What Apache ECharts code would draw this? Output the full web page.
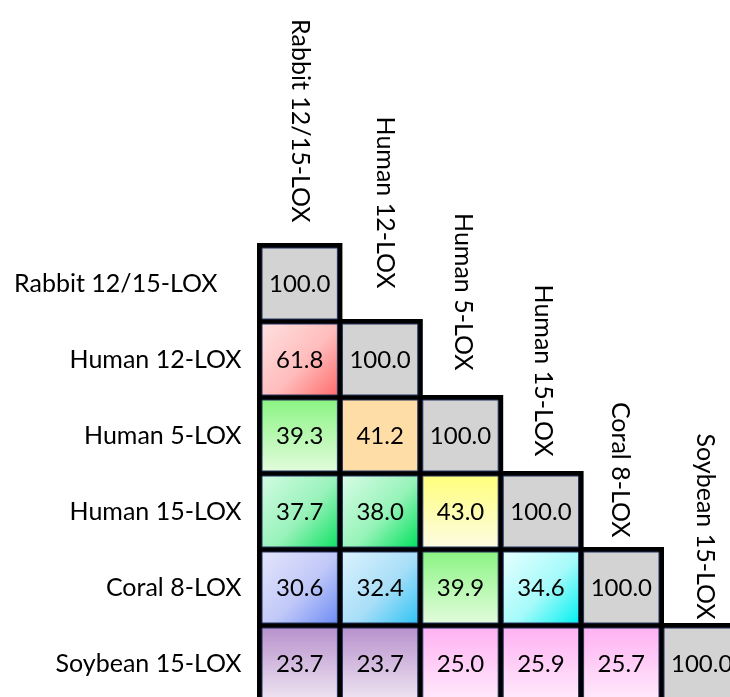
<!DOCTYPE html>
<html>
<head>
<meta charset="utf-8">
<title>LOX sequence identity</title>
<script src="https://cdn.jsdelivr.net/npm/echarts@6/dist/echarts.min.js"></script>
<style>
  html, body { margin: 0; padding: 0; background: #ffffff; }
  #chart { width: 730px; height: 697px; }
</style>
</head>
<body>
<div id="chart"></div>
<script>
// Enzyme names (rows top to bottom, columns left to right)
const enzymes = ['Rabbit 12/15-LOX', 'Human 12-LOX', 'Human 5-LOX', 'Human 15-LOX', 'Coral 8-LOX', 'Soybean 15-LOX'];

// Percent identity, lower triangle, one array per row
const rowRabbit  = [100.0];
const rowHuman12 = [61.8, 100.0];
const rowHuman5  = [39.3, 41.2, 100.0];
const rowHuman15 = [37.7, 38.0, 43.0, 100.0];
const rowCoral8  = [30.6, 32.4, 39.9, 34.6, 100.0];
const rowSoybean = [23.7, 23.7, 25.0, 25.9, 25.7, 100.0];
const identityRows = [rowRabbit, rowHuman12, rowHuman5, rowHuman15, rowCoral8, rowSoybean];

// Fill style key of every cell (same shape as identityRows)
const cellFillKeys = [
  ['gray'],
  ['red', 'gray'],
  ['greenV', 'orange', 'gray'],
  ['mint', 'mint2', 'yellow', 'gray'],
  ['lavender', 'sky', 'greenV', 'cyan', 'gray'],
  ['purple', 'purple', 'pink', 'pink', 'pink', 'gray']
];

const G = echarts.graphic.LinearGradient;
function diag(a, m, b) {
  return new G(0, 0, 1, 1, [{ offset: 0, color: a }, { offset: 0.55, color: m }, { offset: 1, color: b }]);
}
function vert(a, b) { return new G(0, 0, 0, 1, [{ offset: 0, color: a }, { offset: 1, color: b }]); }
const fills = {
  gray: '#d3d3d3',
  red: diag('#ffe0e0', '#ffbcbc', '#ff6c6c'),
  greenV: vert('#8cf484', '#e2fcdc'),
  orange: '#fedda6',
  mint: diag('#d2fbe2', '#98f2ba', '#10e264'),
  mint2: diag('#d8fce6', '#96f3b8', '#00e25c'),
  yellow: vert('#ffff7c', '#fdfbe2'),
  lavender: diag('#e4e5fb', '#c0c8f8', '#6e8cf4'),
  sky: diag('#dcf2fd', '#a8def8', '#30c4f4'),
  cyan: diag('#e6ffff', '#a6fafa', '#00f0f0'),
  purple: vert('#b891cd', '#eee4f1'),
  pink: vert('#ffb2f2', '#ffe9fb')
};

// Column-label placement: gap above the diagonal cell and sideways nudge
const colLabelGap = [23, 33, 27, 17, 12, 6];
const colLabelShift = [0, 5, 3, 2, -1, 3];

const FONT = 'Lato, "Open Sans", "Noto Sans", sans-serif';
const NAME_SIZE = 25;
const VALUE_SIZE = 24;
const BORDER = 5;

const cells = [];
identityRows.forEach(function (row, r) {
  row.forEach(function (v, c) { cells.push([c, r, v, cellFillKeys[r][c]]); });
});

const chart = echarts.init(document.getElementById('chart'), null, { renderer: 'canvas' });

chart.setOption({
  backgroundColor: '#ffffff',
  animation: false,
  grid: { left: 259.5, top: 245.5, width: 482.4, height: 456, containLabel: false, outerBoundsMode: 'none' },
  xAxis: { type: 'category', data: enzymes, show: false },
  yAxis: {
    type: 'category', data: enzymes, inverse: true,
    axisLine: { show: false }, axisTick: { show: false }, splitLine: { show: false },
    axisLabel: {
      margin: 18, color: '#000000', fontSize: NAME_SIZE, fontFamily: FONT,
      formatter: function (name, i) { return i === 0 ? '{first|' + name + '}' : name; },
      rich: { first: { fontSize: NAME_SIZE, fontFamily: FONT, color: '#000000', padding: [0, 24, 0, 0] } }
    }
  },
  series: [
    {
      // black frame behind each cell
      type: 'custom', data: cells, z: 1,
      renderItem: function (params, api) {
        const p = api.coord([api.value(0), api.value(1)]);
        const s = api.size([1, 1]);
        return {
          type: 'rect',
          shape: { x: p[0] - s[0] / 2 - BORDER / 2, y: p[1] - s[1] / 2 - BORDER / 2, width: s[0] + BORDER, height: s[1] + BORDER },
          style: { fill: '#000000' }
        };
      }
    },
    {
      // coloured cell with its value
      type: 'custom', data: cells, z: 2,
      renderItem: function (params, api) {
        const p = api.coord([api.value(0), api.value(1)]);
        const s = api.size([1, 1]);
        const key = cells[params.dataIndex][3];
        const x0 = p[0] - s[0] / 2 + BORDER / 2, y0 = p[1] - s[1] / 2 + BORDER / 2;
        const w = s[0] - BORDER, h = s[1] - BORDER;
        return {
          type: 'group',
          children: [
            { type: 'rect', shape: { x: x0, y: y0, width: w, height: h }, style: { fill: fills[key], stroke: '#24325c', lineWidth: 1 } },
            {
              type: 'text', x: p[0], y: p[1] + 1,
              style: { text: api.value(2).toFixed(1), fill: '#000000', fontSize: VALUE_SIZE, fontFamily: FONT, align: 'center', verticalAlign: 'middle' }
            }
          ]
        };
      }
    },
    {
      // column names written downwards above each diagonal cell
      type: 'custom', data: enzymes.map(function (n, i) { return [i, i]; }), z: 3,
      renderItem: function (params, api) {
        const i = params.dataIndex;
        const p = api.coord([api.value(0), api.value(1)]);
        const s = api.size([1, 1]);
        return {
          type: 'text',
          x: p[0] + colLabelShift[i], y: p[1] - s[1] / 2 - colLabelGap[i],
          rotation: -Math.PI / 2,
          style: { text: enzymes[i], fill: '#000000', fontSize: NAME_SIZE, fontFamily: FONT, align: 'right', verticalAlign: 'middle' }
        };
      }
    }
  ]
});
</script>
</body>
</html>
